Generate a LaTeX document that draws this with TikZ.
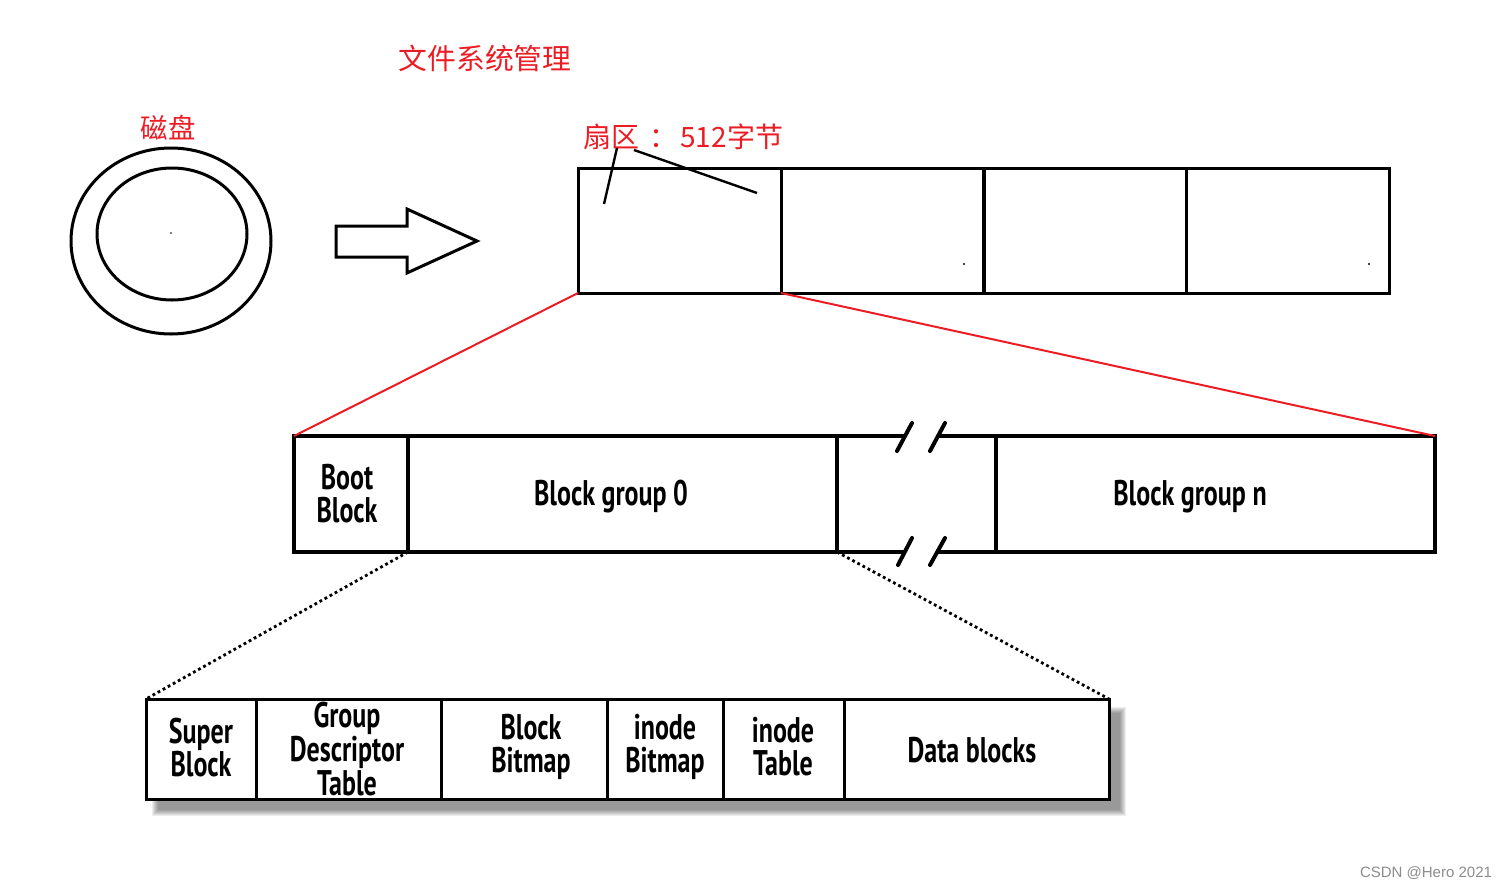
\documentclass[tikz,border=0pt]{standalone}
\usepackage{fontspec}
\newfontfamily\cjk{Noto Sans CJK SC}
\newfontfamily\lbl[FakeStretch=0.73]{PT Sans Bold}
\newfontfamily\wm{Liberation Sans}
\definecolor{myred}{RGB}{236,28,36}
\begin{document}
\begin{tikzpicture}[x=0.5pt,y=-0.5pt,
  sec/.style={draw, line width=1.5pt, outer sep=0pt, minimum width=101.5pt, minimum height=62.5pt, inner sep=0pt},
  grp/.style={draw, line width=2pt, outer sep=0pt, minimum height=58pt, inner sep=0pt},
  lbltxt/.style={font=\lbl\fontsize{17.8}{16.5}\selectfont, align=center, inner sep=0pt},
  sub/.style={draw, line width=1.5pt, outer sep=0pt, fill=white, minimum height=50pt, inner sep=0pt},
  redtxt/.style={text=myred, inner sep=0pt},
  redline/.style={draw=myred, line width=1pt},
  dotline/.style={line width=1.4pt, dash pattern=on 1.4pt off 1.5pt},
  thick1/.style={line width=1.5pt},
  slash/.style={line width=2pt, line cap=round}]
\useasboundingbox (0,0) rectangle (1505,889);

% titles
\node[redtxt] (title) at (485,58) {\cjk\fontsize{14.4}{16}\selectfont 文件系统管理};
\node[redtxt] (disklbl) at (168,128) {\cjk\fontsize{13.7}{16}\selectfont 磁盘};
\node[redtxt, anchor=west] (seclbl) at (583,137) {\cjk\fontsize{14}{16}\selectfont 扇区\hspace{5pt}：\hspace{1.5pt}512字节};

% disk
\draw[thick1] (171,241) ellipse [x radius=50pt, y radius=46.5pt];
\draw[thick1] (172,234) ellipse [x radius=37.5pt, y radius=33pt];
\fill (171,233) circle [radius=0.4pt];

% block arrow
\draw[thick1, line join=miter] (336,226) -- (407,226) -- (407,209) -- (477,241) -- (407,273) -- (407,257) -- (336,257) -- cycle;

% sectors
\node[sec] (s1) at (679.5,230.5) {};
\node[sec] (s2) at (882.5,230.5) {};
\node[sec] (s3) at (1085,230.5) {};
\node[sec] (s4) at (1287.5,230.5) {};
\fill (964,264) circle [radius=0.6pt];
\fill (1369,264) circle [radius=0.6pt];

% leader lines from label
\coordinate (la) at (617,148);
\coordinate (lb) at (604,204);
\coordinate (lc) at (634,150);
\coordinate (ld) at (757,193);
\draw[line width=1.2pt] (la) -- (lb);
\draw[line width=1.2pt] (lc) -- (ld);

% block group row
\node[grp, minimum width=57pt] (boot) at (351,494) {};
\node[grp, minimum width=214.5pt] (bg0) at (622.5,494) {};
\node[grp, minimum width=219.5pt] (bgn) at (1215.5,494) {};
\node[lbltxt] (boott) at (347,494) {Boot\\Block};
\node[lbltxt] (bg0t) at (611,497) {Block group 0};
\node[lbltxt] (bgnt) at (1190,497) {Block group n};
\coordinate (gt1) at (905,436);
\coordinate (gt2) at (937,436);
\coordinate (gb1) at (905,552);
\coordinate (gb2) at (937,552);
\draw[line width=2pt] (bg0.north east) -- (gt1);
\draw[line width=2pt] (gt2) -- (bgn.north west);
\draw[line width=2pt] (bg0.south east) -- (gb1);
\draw[line width=2pt] (gb2) -- (bgn.south west);
\draw[slash] (897,451) -- (912,423);
\draw[slash] (930,451) -- (945,423);
\draw[slash] (898,565) -- (912,538);
\draw[slash] (930,565) -- (945,538);

% red zoom lines
\draw[redline] (s1.south west) -- (boot.north west);
\draw[redline] (s1.south east) -- (bgn.north east);

% shadow of lower row
\foreach \i in {0,...,6}
  \fill[black, opacity=0.07] (152+\i,707+\i) rectangle (1126-\i,816-\i);

% lower row
\node[sub, minimum width=55pt] (sb) at (201,749) {};
\node[sub, minimum width=92.5pt] (gdt) at (348.5,749) {};
\node[sub, minimum width=83pt] (bb) at (524,749) {};
\node[sub, minimum width=58pt] (ib) at (665,749) {};
\node[sub, minimum width=60.5pt] (it) at (783.5,749) {};
\node[sub, minimum width=132.5pt] (db) at (976.5,749) {};
\node[lbltxt] (sbt) at (201,748) {Super\\Block};
\node[lbltxt, font=\lbl\fontsize{17.8}{16}\selectfont] (gdtt) at (347,749) {Group\\Descriptor\\Table};
\node[lbltxt] (bbt) at (531,747) {Block\\Bitmap};
\node[lbltxt] (ibt) at (665,747) {inode\\Bitmap};
\node[lbltxt] (itt) at (783,747) {inode\\Table};
\node[lbltxt] (dbt) at (972,750) {Data blocks};

% dotted zoom lines
\draw[dotline] (boot.south east) -- (sb.north west);
\draw[dotline] (bg0.south east) -- (db.north east);

% watermark
\node[text=black!45, font=\wm\fontsize{7.5}{9}\selectfont] (wmark) at (1426,873) {CSDN @Hero 2021};
\end{tikzpicture}
\end{document}
